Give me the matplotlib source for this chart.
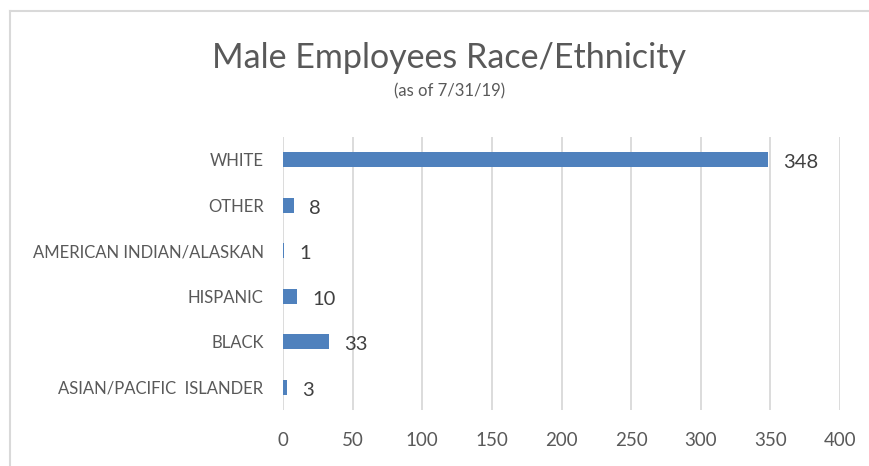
import matplotlib.pyplot as plt
from matplotlib.lines import Line2D

categories = ['ASIAN/PACIFIC  ISLANDER', 'BLACK', 'HISPANIC',
              'AMERICAN INDIAN/ALASKAN', 'OTHER', 'WHITE']
counts = [3, 33, 10, 1, 8, 348]
xticks = [0, 50, 100, 150, 200, 250, 300, 350, 400]

plt.rcParams['font.family'] = ['Lato', 'DejaVu Sans']

fig = plt.figure(figsize=(8.69, 4.66), dpi=100)
ax = fig.add_axes([0.3257, 0.1202, 0.6409, 0.5858])

# outer chart frame (only left and top edges are in view)
fx, fy = 10 / 869, 1 - 11 / 466
fig.lines.append(Line2D([fx, fx], [0, fy], transform=fig.transFigure,
                        color='#d9d9d9', linewidth=1.5))
fig.lines.append(Line2D([fx, 1], [fy, fy], transform=fig.transFigure,
                        color='#d9d9d9', linewidth=1.5))

ax.barh(range(len(categories)), counts, height=0.32, color='#4f81bd', zorder=3)

for i, v in enumerate(counts):
    ax.annotate(str(v), (v, i), xytext=(11, -2), textcoords='offset points',
                ha='left', va='center', fontsize=14.5, color='#404040')

ax.set_xlim(0, 400)
ax.set_ylim(-0.5, 5.5)
ax.set_xticks(xticks)
ax.set_yticks(range(len(categories)))
ax.set_yticklabels(categories)
ax.tick_params(axis='y', length=0, pad=14, labelsize=12, labelcolor='#595959')
ax.tick_params(axis='x', length=0, pad=16, labelsize=13.5, labelcolor='#595959')
ax.grid(axis='x', color='#d9d9d9', linewidth=1.3, zorder=0)
for s in ax.spines.values():
    s.set_visible(False)

fig.text(0.517, 0.876, 'Male Employees Race/Ethnicity', ha='center', va='center',
         fontsize=24.5, color='#595959')
fig.text(0.517, 0.803, '(as of 7/31/19)', ha='center', va='center',
         fontsize=12, color='#595959')

fig.savefig('out.png', dpi=100)
